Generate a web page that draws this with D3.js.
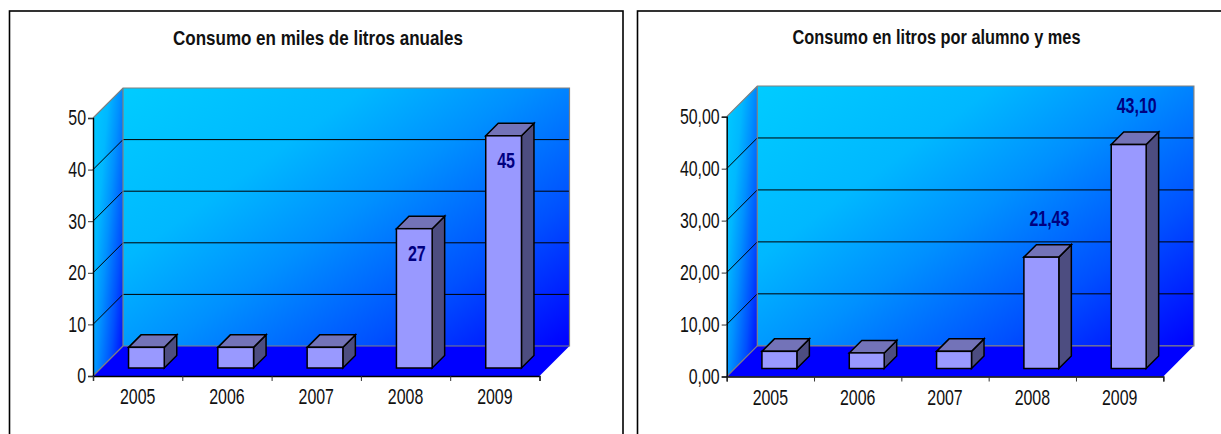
<!DOCTYPE html>
<html>
<head>
<meta charset="utf-8">
<script src="https://cdn.jsdelivr.net/npm/d3@7"></script>
<style>
  html, body { margin: 0; padding: 0; background: #fff; overflow: hidden; }
  text { font-family: "Liberation Sans", Arial, sans-serif; fill: #111; }
</style>
</head>
<body>
<div id="chart"></div>
<script>
// data
var years = ["2005", "2006", "2007", "2008", "2009"];
var labelledYears = ["2008", "2009"];
var litrosAnuales = [4, 4, 4, 27, 45];
var litrosAlumno = [3.3, 3, 3.3, 21.43, 43.10];
var yTicks = [0, 10, 20, 30, 40, 50];

var svg = d3.select("#chart").append("svg")
  .attr("width", 1221)
  .attr("height", 434);

var defs = svg.append("defs");

function addGradient(id) {
  var grad = defs.append("linearGradient").attr("id", id)
    .attr("x1", "0").attr("y1", "0").attr("x2", "1.09").attr("y2", "0.89");
  grad.append("stop").attr("offset", "0").attr("stop-color", "#00ccff");
  grad.append("stop").attr("offset", "0.3").attr("stop-color", "#00b8ff");
  grad.append("stop").attr("offset", "0.5").attr("stop-color", "#0090ff");
  grad.append("stop").attr("offset", "0.75").attr("stop-color", "#0050ff");
  grad.append("stop").attr("offset", "1").attr("stop-color", "#0000ff");
}
addGradient("wallGrad");
addGradient("sideGrad");

function pts(list) {
  return list.map(p => p.join(",")).join(" ");
}

// no narrow font installed, so squeeze the glyphs to the original width
function squeeze(sel, factor) {
  sel.each(function() {
    d3.select(this)
      .attr("textLength", this.getComputedTextLength() * factor)
      .attr("lengthAdjust", "spacingAndGlyphs");
  });
}

function drawChart(cfg) {
  // frame runs past the bottom of the picture
  svg.append("rect")
    .attr("x", cfg.frame[0]).attr("y", cfg.frame[1])
    .attr("width", cfg.frame[2]).attr("height", 500)
    .attr("fill", "#fff").attr("stroke", "#000").attr("stroke-width", 1.6);

  svg.append("text")
    .attr("x", cfg.titleX).attr("y", cfg.titleY)
    .attr("text-anchor", "middle")
    .attr("font-weight", "bold")
    .attr("font-size", 21)
    .attr("textLength", cfg.titleW)
    .attr("lengthAdjust", "spacingAndGlyphs")
    .text(cfg.title);

  var x = d3.scaleBand().domain(years).range([cfg.left, cfg.right]);
  var y = d3.scaleLinear().domain([0, 50]).range([cfg.bottom, cfg.top]);
  var dx = cfg.depthX, dy = cfg.depthY;

  // side wall, back wall, floor
  svg.append("polygon")
    .attr("points", pts([[cfg.left, y(0)], [cfg.left, y(50)], [cfg.left + dx, y(50) - dy], [cfg.left + dx, y(0) - dy]]))
    .attr("fill", "url(#sideGrad)");
  svg.append("rect")
    .attr("x", cfg.left + dx).attr("y", y(50) - dy)
    .attr("width", cfg.right - cfg.left).attr("height", y(0) - y(50))
    .attr("fill", "url(#wallGrad)");
  svg.append("polygon")
    .attr("points", pts([[cfg.left, y(0)], [cfg.left + dx, y(0) - dy], [cfg.right + dx, y(0) - dy], [cfg.right, y(0)]]))
    .attr("fill", "#0000ff");

  // gridlines
  var inner = yTicks.filter(t => t > 0 && t < 50);
  svg.append("g").selectAll("line.back").data(inner).enter().append("line")
    .attr("x1", cfg.left + dx).attr("x2", cfg.right + dx)
    .attr("y1", d => y(d) - dy).attr("y2", d => y(d) - dy)
    .attr("stroke", "#000").attr("stroke-width", 1);
  svg.append("g").selectAll("line.side").data(inner).enter().append("line")
    .attr("x1", cfg.left).attr("x2", cfg.left + dx)
    .attr("y1", d => y(d)).attr("y2", d => y(d) - dy)
    .attr("stroke", "#000").attr("stroke-width", 1);

  // grey wall outlines
  svg.append("polyline")
    .attr("points", pts([[cfg.left, y(50)], [cfg.left + dx, y(50) - dy], [cfg.right + dx, y(50) - dy], [cfg.right + dx, y(0) - dy], [cfg.left + dx, y(0) - dy], [cfg.left + dx, y(50) - dy]]))
    .attr("fill", "none").attr("stroke", "#808080").attr("stroke-width", 1.2);
  svg.append("line")
    .attr("x1", cfg.left).attr("y1", y(0))
    .attr("x2", cfg.left + dx).attr("y2", y(0) - dy)
    .attr("stroke", "#808080").attr("stroke-width", 1.2);

  // bars
  var barW = x.bandwidth() / 2.5;
  var barD = 12.5;
  var gap = (dx - barD) / 2;
  var base = y(0) - 8;
  var scale = y(0) - y(1);

  var bars = svg.append("g").selectAll("g").data(cfg.values).enter().append("g")
    .attr("stroke", "#000").attr("stroke-width", 1.5).attr("stroke-linejoin", "miter");

  var barX = (d, i) => x(years[i]) + (x.bandwidth() - barW) / 2 + gap;
  var barTop = d => base - d * scale;

  bars.append("polygon")
    .attr("fill", "#4d4d80")
    .attr("points", (d, i) => pts([
      [barX(d, i) + barW, barTop(d)],
      [barX(d, i) + barW + barD, barTop(d) - barD],
      [barX(d, i) + barW + barD, base - barD],
      [barX(d, i) + barW, base]
    ]));
  bars.append("polygon")
    .attr("fill", "#7373b8")
    .attr("points", (d, i) => pts([
      [barX(d, i), barTop(d)],
      [barX(d, i) + barD, barTop(d) - barD],
      [barX(d, i) + barW + barD, barTop(d) - barD],
      [barX(d, i) + barW, barTop(d)]
    ]));
  bars.append("rect")
    .attr("fill", "#9999ff")
    .attr("x", barX)
    .attr("y", barTop)
    .attr("width", barW)
    .attr("height", d => base - barTop(d));

  // axes
  var yAxis = d3.axisLeft(y).tickValues(yTicks).tickSize(5).tickPadding(2)
    .tickFormat(cfg.yFormat);
  var yG = svg.append("g").attr("transform", `translate(${cfg.left}, 0)`).call(yAxis);
  yG.selectAll("path").attr("stroke", "#000").attr("stroke-width", 1.4);
  yG.selectAll("line").attr("stroke", "#333");
  yG.selectAll("text").attr("font-size", cfg.tickSize).attr("font-family", null).attr("fill", null)
    .call(squeeze, 0.74);

  // ticks sit between the categories in the original
  var edge = d3.scaleLinear().domain([0, years.length]).range([cfg.left, cfg.right]);
  var edgeAxis = d3.axisBottom(edge).tickValues(d3.range(years.length + 1)).tickSize(5).tickFormat("");
  var edgeG = svg.append("g").attr("transform", `translate(0, ${y(0)})`).call(edgeAxis);
  edgeG.selectAll("path").attr("stroke", "#000").attr("stroke-width", 1.4);
  edgeG.selectAll("line").attr("stroke", "#333");

  var xAxis = d3.axisBottom(x).tickSize(0).tickPadding(cfg.xPad);
  var xG = svg.append("g").attr("transform", `translate(0, ${y(0)})`).call(xAxis);
  xG.select("path").remove();
  xG.selectAll("text").attr("font-size", cfg.tickSize).attr("font-family", null).attr("fill", null)
    .call(squeeze, 0.74);

  // value labels
  svg.append("g").selectAll("text").data(cfg.values).enter()
    .filter((d, i) => labelledYears.includes(years[i]))
    .append("text")
    .attr("x", d => barX(d, cfg.values.indexOf(d)) + barW / 2 + cfg.labelDx)
    .attr("y", d => barTop(d) + cfg.labelDy)
    .attr("text-anchor", "middle")
    .attr("dominant-baseline", "central")
    .attr("font-weight", "bold")
    .attr("font-size", 22.5)
    .style("fill", "#000080")
    .text(cfg.labelFormat)
    .call(squeeze, 0.71);
}

var comma = d3.formatLocale({ decimal: ",", thousands: ".", grouping: [3], currency: ["", ""] });

drawChart({
  title: "Consumo en miles de litros anuales",
  titleX: 318, titleY: 45, titleW: 290,
  frame: [9.5, 11, 613.5],
  left: 93, right: 539.5, top: 118, bottom: 376,
  depthX: 30, depthY: 30,
  values: litrosAnuales,
  yFormat: d3.format("d"),
  labelFormat: d3.format("d"),
  labelDx: 2.5, labelDy: 25,
  tickSize: 21.5, xPad: 13
});

drawChart({
  title: "Consumo en litros por alumno y mes",
  titleX: 936.5, titleY: 44, titleW: 288,
  frame: [637.5, 11, 700],
  left: 726.7, right: 1163.3, top: 116.7, bottom: 376.5,
  depthX: 30.6, depthY: 30.7,
  values: litrosAlumno,
  yFormat: comma.format(".2f"),
  labelFormat: comma.format(".2f"),
  labelDx: 8, labelDy: -39,
  tickSize: 21.5, xPad: 13
});
</script>
</body>
</html>
